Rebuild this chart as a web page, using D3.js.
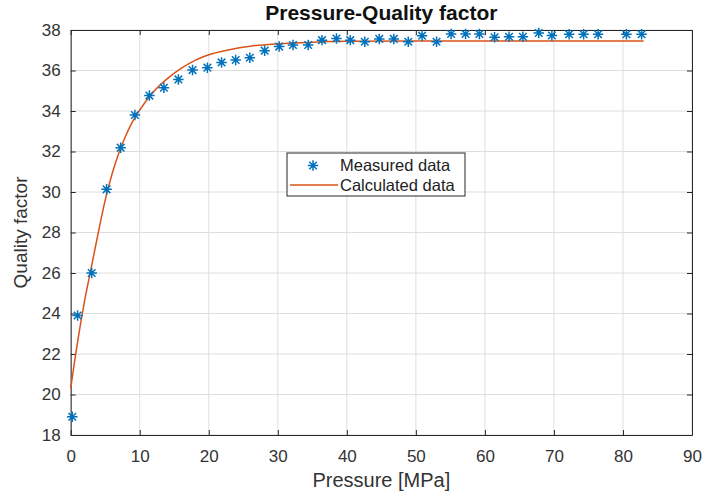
<!DOCTYPE html>
<html>
<head>
<meta charset="utf-8">
<script src="https://cdn.jsdelivr.net/npm/d3@7"></script>
<style>
  body { margin: 0; background: #fff; }
  svg text { font-family: "Liberation Sans", Arial, sans-serif; }
</style>
</head>
<body>
<div id="chart"></div>
<script>
// measured points (pressure MPa, quality factor)
var measuredP = [0.23, 1.0, 3.04, 5.2, 7.24, 9.3, 11.4, 13.5, 15.6, 17.65, 19.8, 21.85, 23.9, 25.95, 28.1, 30.2,
  32.2, 34.4, 36.4, 38.5, 40.5, 42.6, 44.7, 46.8, 48.9, 50.9, 53.0, 55.1, 57.2, 59.2, 61.4, 63.5, 65.5,
  67.8, 69.7, 72.2, 74.3, 76.4, 80.5, 82.7];
var measuredQ = [18.9, 23.9, 26.0, 30.13, 32.19, 33.8, 34.76, 35.15, 35.56, 36.02, 36.14, 36.4, 36.52, 36.63, 36.98, 37.18,
  37.26, 37.26, 37.5, 37.58, 37.5, 37.42, 37.56, 37.56, 37.42, 37.72, 37.42, 37.8, 37.8, 37.8, 37.64, 37.67, 37.67,
  37.85, 37.73, 37.79, 37.79, 37.79, 37.79, 37.79];

// calculated curve
var calcP = [0, 1, 2, 3, 4, 5, 6, 7, 8, 9, 10, 12, 14, 16, 18, 20, 23, 26, 30, 35, 40, 50, 60, 70, 83];
var calcQ = [20.3, 22.6, 24.6, 26.3, 28.0, 29.6, 30.9, 31.95, 32.8, 33.5, 34.05, 34.95, 35.6, 36.1, 36.5, 36.78,
  37.03, 37.2, 37.32, 37.4, 37.44, 37.46, 37.46, 37.46, 37.46];

var xTicks = [0, 10, 20, 30, 40, 50, 60, 70, 80, 90];
var yTicks = [18, 20, 22, 24, 26, 28, 30, 32, 34, 36, 38];

var W = 705, H = 491;
var margin = { top: 30, right: 13, bottom: 56, left: 70.7 };
var width = W - margin.left - margin.right,
  height = H - margin.top - margin.bottom;

var svg = d3.select('#chart').append('svg')
  .attr('width', W).attr('height', H);

var g = svg.append('g')
  .attr('transform', 'translate(' + margin.left + ',' + margin.top + ')');

var x = d3.scaleLinear().domain([0, 90]).range([0, width]);
var y = d3.scaleLinear().domain([18, 38]).range([height, 0]);

var axisColor = '#262626';

// grid
g.append('g').selectAll('line').data(xTicks).enter().append('line')
  .attr('x1', function(d) { return x(d); }).attr('x2', function(d) { return x(d); })
  .attr('y1', 0).attr('y2', height)
  .attr('stroke', '#dedede').attr('stroke-width', 1);
g.append('g').selectAll('line').data(yTicks).enter().append('line')
  .attr('y1', function(d) { return y(d); }).attr('y2', function(d) { return y(d); })
  .attr('x1', 0).attr('x2', width)
  .attr('stroke', '#dedede').attr('stroke-width', 1);

// axes, ticks pointing inside, box on
function styleAxis(sel) {
  sel.select('.domain').attr('stroke', axisColor);
  sel.selectAll('.tick line').attr('stroke', axisColor);
  sel.selectAll('.tick text').attr('fill', '#333').style('font-size', '17px');
}

g.append('g').attr('transform', 'translate(0,' + height + ')')
  .call(d3.axisBottom(x).tickValues(xTicks).tickSize(-5).tickSizeOuter(0).tickPadding(15))
  .call(styleAxis);
g.append('g')
  .call(d3.axisTop(x).tickValues(xTicks).tickSize(-5).tickSizeOuter(0).tickFormat(''))
  .call(styleAxis);
g.append('g')
  .call(d3.axisLeft(y).tickValues(yTicks).tickSize(-5).tickSizeOuter(0).tickPadding(10))
  .call(styleAxis);
g.append('g').attr('transform', 'translate(' + width + ',0)')
  .call(d3.axisRight(y).tickValues(yTicks).tickSize(-5).tickSizeOuter(0).tickFormat(''))
  .call(styleAxis);

// calculated line
var line = d3.line()
  .x(function(d, i) { return x(calcP[i]); })
  .y(function(d, i) { return y(calcQ[i]); })
  .curve(d3.curveMonotoneX);

g.append('path')
  .datum(calcQ)
  .attr('d', line)
  .attr('fill', 'none')
  .attr('stroke', '#D95319')
  .attr('stroke-width', 1.5);

// matlab style '*' marker
var star = {
  draw: function(ctx, size) {
    var r = Math.sqrt(size) / 2, d = r * 0.72;
    ctx.moveTo(-r, 0); ctx.lineTo(r, 0);
    ctx.moveTo(0, -r); ctx.lineTo(0, r);
    ctx.moveTo(-d, -d); ctx.lineTo(d, d);
    ctx.moveTo(-d, d); ctx.lineTo(d, -d);
  }
};
var starPath = d3.symbol().type(star).size(110);

g.append('g').selectAll('path').data(measuredQ).enter().append('path')
  .attr('d', starPath)
  .attr('transform', function(d, i) { return 'translate(' + x(measuredP[i]) + ',' + y(d) + ')'; })
  .attr('fill', 'none')
  .attr('stroke', '#0072BD')
  .attr('stroke-width', 1.5);

// title and labels
svg.append('text')
  .attr('x', margin.left + width / 2).attr('y', 20)
  .attr('text-anchor', 'middle')
  .style('font-size', '21px').style('font-weight', 'bold').attr('fill', '#111')
  .text('Pressure-Quality factor');

svg.append('text')
  .attr('x', margin.left + width / 2).attr('y', 487)
  .attr('text-anchor', 'middle')
  .style('font-size', '20px').attr('fill', '#333')
  .text('Pressure [MPa]');

svg.append('text')
  .attr('transform', 'translate(27,' + (margin.top + height / 2) + ') rotate(-90)')
  .attr('text-anchor', 'middle')
  .style('font-size', '19px').attr('fill', '#333')
  .text('Quality factor');

// legend
var lg = g.append('g').attr('transform', 'translate(' + (287 - margin.left) + ',' + (153 - margin.top) + ')');
lg.append('rect')
  .attr('width', 178).attr('height', 43)
  .attr('fill', '#fff').attr('stroke', axisColor).attr('stroke-width', 1);
lg.append('path')
  .attr('d', starPath)
  .attr('transform', 'translate(26,12.5)')
  .attr('fill', 'none').attr('stroke', '#0072BD').attr('stroke-width', 1.5);
lg.append('line')
  .attr('x1', 3).attr('x2', 51).attr('y1', 32).attr('y2', 32)
  .attr('stroke', '#D95319').attr('stroke-width', 1.5);
lg.append('text').attr('x', 53).attr('y', 18)
  .style('font-size', '16.5px').attr('fill', '#222').text('Measured data');
lg.append('text').attr('x', 53).attr('y', 38)
  .style('font-size', '16.5px').attr('fill', '#222').text('Calculated data');
</script>
</body>
</html>
